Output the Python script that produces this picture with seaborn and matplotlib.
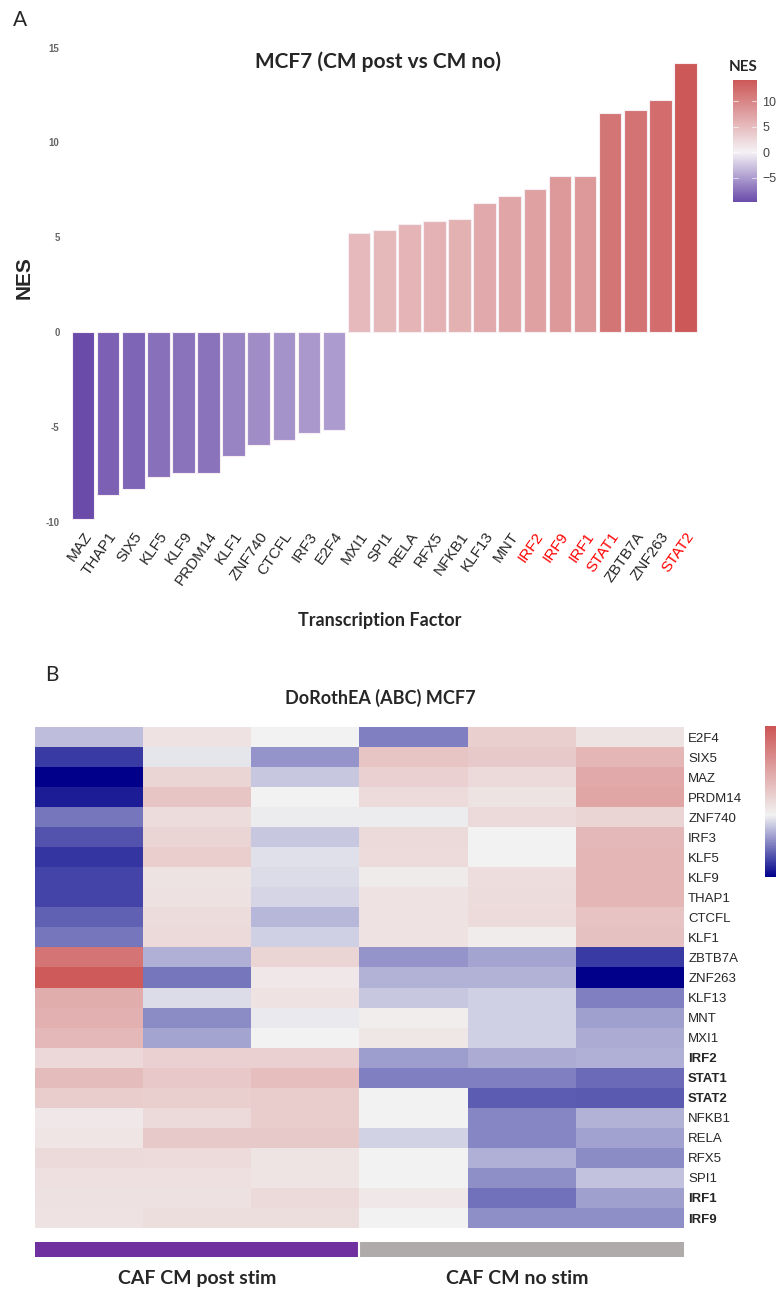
import numpy as np
import pandas as pd
import seaborn as sns
import matplotlib.pyplot as plt
from matplotlib.colors import LinearSegmentedColormap, ListedColormap, Normalize
from matplotlib.cm import ScalarMappable

# Panel A data (NES per transcription factor)
tfs = ["MAZ", "THAP1", "SIX5", "KLF5", "KLF9", "PRDM14", "KLF1", "ZNF740", "CTCFL", "IRF3", "E2F4",
       "MXI1", "SPI1", "RELA", "RFX5", "NFKB1", "KLF13", "MNT", "IRF2", "IRF9", "IRF1", "STAT1",
       "ZBTB7A", "ZNF263", "STAT2"]
nes = [-9.82, -8.56, -8.26, -7.62, -7.38, -7.38, -6.50, -5.95, -5.65, -5.28, -5.12,
       5.23, 5.37, 5.72, 5.88, 5.95, 6.79, 7.16, 7.53, 8.21, 8.26, 11.53,
       11.70, 12.26, 14.21]
red_tfs = ["IRF2", "IRF9", "IRF1", "STAT1", "STAT2"]
cbar_ticks_a = [-5, 0, 5, 10]

# Panel B data (heatmap rows and one list per sample column)
heat_rows = ["E2F4", "SIX5", "MAZ", "PRDM14", "ZNF740", "IRF3", "KLF5", "KLF9", "THAP1", "CTCFL", "KLF1",
             "ZBTB7A", "ZNF263", "KLF13", "MNT", "MXI1", "IRF2", "STAT1", "STAT2", "NFKB1", "RELA",
             "RFX5", "SPI1", "IRF1", "IRF9"]
bold_rows = ["IRF2", "STAT1", "STAT2", "IRF1", "IRF9"]
post_1 = [-2.0, -7.1, -9.4, -8.3, -4.8, -6.1, -7.3, -6.8, -6.8, -5.6, -4.8,
          10.8, 13.0, 6.0, 5.7, 5.0, 2.3, 4.6, 3.2, 0.8, 1.1, 2.1, 1.6, 1.5, 1.4]
post_2 = [1.4, -0.5, 2.5, 3.9, 1.9, 2.5, 3.1, 1.3, 1.5, 1.9, 2.2,
          -2.6, -4.8, -0.9, -4.0, -3.0, 2.9, 3.6, 3.0, 2.1, 3.5, 2.0, 1.6, 1.5, 1.7]
post_3 = [0.0, -3.6, -1.7, 0.0, -0.2, -1.7, -0.7, -0.9, -1.1, -2.3, -1.3,
          2.5, 0.8, 1.4, -0.3, 0.0, 2.9, 4.4, 3.3, 3.3, 3.5, 1.2, 1.2, 2.1, 1.7]
no_1 = [-4.4, 3.9, 2.9, 2.0, -0.2, 2.2, 2.0, 0.6, 1.4, 1.4, 1.4,
        -3.6, -2.5, -1.7, 0.4, 1.0, -3.3, -4.4, 0.0, 0.0, -1.2, 0.0, 0.0, 0.8, 0.0]
no_2 = [3.0, 3.5, 2.2, 1.3, 2.1, 0.0, 0.0, 1.8, 1.9, 2.0, 0.5,
        -3.0, -2.5, -1.3, -1.3, -1.3, -2.7, -4.4, -5.8, -4.2, -4.2, -2.6, -3.8, -5.0, -3.8]
no_3 = [1.3, 5.1, 6.3, 6.5, 2.5, 5.0, 5.1, 5.1, 5.1, 4.1, 4.2,
        -7.1, -9.4, -4.4, -3.2, -2.7, -2.6, -5.2, -5.9, -2.5, -3.1, -4.0, -1.8, -3.2, -3.8]
groups = ["CAF CM post stim", "CAF CM post stim", "CAF CM post stim",
          "CAF CM no stim", "CAF CM no stim", "CAF CM no stim"]
cbar_ticks_b = [-5, 0, 5, 10]

sns.set_theme(style="white")
plt.rcParams['font.family'] = ['Liberation Sans', 'DejaVu Sans']

fig = plt.figure(figsize=(7.81, 12.89), dpi=100)

# ---- Panel A: bar chart coloured by NES
vmin_a, vmax_a = min(nes), max(nes)
mid_a = -vmin_a / (vmax_a - vmin_a)
cmap_a = LinearSegmentedColormap.from_list(
    "nes", [(0, "#6A4BA9"), (mid_a, "#F4F2F6"), (1, "#CD5858")])
norm_a = Normalize(vmin_a, vmax_a)

df_a = pd.DataFrame({"tf": tfs, "nes": nes})
bar_colors = {t: cmap_a(norm_a(v)) for t, v in zip(tfs, nes)}

ax_a = fig.add_axes([0.087, 0.5904, 0.81, 0.3786])
sns.barplot(data=df_a, x="tf", y="nes", hue="tf", palette=bar_colors, legend=False,
            width=0.9, saturation=1, edgecolor="#F7EEF3", linewidth=0.8, ax=ax_a)
ax_a.set_xlim(-0.6, len(tfs) - 0.4)
ax_a.set_ylim(-10.3, 15.4)
ax_a.set_yticks([-10, -5, 0, 5, 10, 15])
ax_a.set_yticklabels(["-10", "-5", "0", "5", "10", "15"], fontsize=7, color="#666666", fontweight="bold")
ax_a.tick_params(axis="y", length=0, pad=6)
ax_a.tick_params(axis="x", length=0, pad=1)
ax_a.set_xticks(range(len(tfs)))
ax_a.set_xticklabels(tfs, rotation=55, ha="right", rotation_mode="anchor", fontsize=11)
for lbl in ax_a.get_xticklabels():
    if lbl.get_text() in red_tfs:
        lbl.set_color("#FF0000")
ax_a.set_xlabel("")
ax_a.set_ylabel("")
sns.despine(ax=ax_a, left=True, bottom=True)

# colourbar for panel A
cax_a = fig.add_axes([0.9385, 0.8433, 0.0307, 0.0946])
cb_a = fig.colorbar(ScalarMappable(norm=norm_a, cmap=cmap_a), cax=cax_a, ticks=cbar_ticks_a)
cb_a.outline.set_visible(False)
cax_a.tick_params(length=0, labelsize=9, labelcolor="#444444", pad=4)
for t in cbar_ticks_a:
    cax_a.axhline(t, xmin=0, xmax=0.2, color="white", lw=0.8, alpha=0.6)
    cax_a.axhline(t, xmin=0.8, xmax=1, color="white", lw=0.8, alpha=0.6)

fig.text(0.9513, 0.948, "NES", ha="center", va="center", fontsize=11, fontweight="bold", family="Lato")
fig.text(0.0166, 0.9845, "A", ha="left", va="center", fontsize=15, family="Lato")
fig.text(0.484, 0.9519, "MCF7 (CM post vs CM no)", ha="center", va="center",
         fontsize=15, fontweight="bold", family="Lato")
fig.text(0.0307, 0.7843, "NES", rotation=90, ha="center", va="center", fontsize=15, fontweight="bold")
fig.text(0.4866, 0.519, "Transcription Factor", ha="center", va="center",
         fontsize=13, fontweight="bold", family="Lato")

# ---- Panel B: heatmap
df_b = pd.DataFrame({"post_1": post_1, "post_2": post_2, "post_3": post_3,
                     "no_1": no_1, "no_2": no_2, "no_3": no_3}, index=heat_rows)
vmin_b, vmax_b = -9.4, 13.5
mid_b = -vmin_b / (vmax_b - vmin_b)
cmap_b = LinearSegmentedColormap.from_list(
    "heat", [(0, "#00008B"), (mid_b, "#F2F2F2"), (1, "#CD5555")])

ax_b = fig.add_axes([0.0448, 0.0473, 0.831, 0.3887])
cax_b = fig.add_axes([0.9795, 0.3196, 0.0141, 0.1171])
sns.heatmap(df_b, cmap=cmap_b, vmin=vmin_b, vmax=vmax_b, ax=ax_b, cbar_ax=cax_b,
            xticklabels=False, yticklabels=True, cbar_kws={"ticks": cbar_ticks_b})
ax_b.yaxis.tick_right()
ax_b.tick_params(axis="y", length=0, pad=3, labelsize=9.5, labelrotation=0)
for lbl in ax_b.get_yticklabels():
    if lbl.get_text() in bold_rows:
        lbl.set_fontweight("bold")
ax_b.set_xlabel("")
ax_b.set_ylabel("")
cax_b.tick_params(length=0, labelsize=10, pad=4)
ax_b.collections[0].colorbar.outline.set_edgecolor("#DDDDEE")

# group annotation bar under heatmap
ax_g = fig.add_axes([0.0448, 0.0248, 0.831, 0.0116])
grp_codes = [[0 if g == "CAF CM post stim" else 1 for g in groups]]
sns.heatmap(np.array(grp_codes), cmap=ListedColormap(["#7030A0", "#AFABAB"]), vmin=0, vmax=1,
            cbar=False, xticklabels=False, yticklabels=False, ax=ax_g)
ax_g.axvline(3, color="white", lw=1.5)

fig.text(0.0576, 0.4763, "B", ha="left", va="center", fontsize=15, family="Lato")
fig.text(0.4866, 0.4585, "DoRothEA (ABC) MCF7", ha="center", va="center",
         fontsize=13, fontweight="bold", family="Lato")
fig.text(0.2522, 0.0085, "CAF CM post stim", ha="center", va="center",
         fontsize=14, fontweight="bold", family="Lato")
fig.text(0.662, 0.0085, "CAF CM no stim", ha="center", va="center",
         fontsize=14, fontweight="bold", family="Lato")

fig.savefig("out.png", dpi=100)
